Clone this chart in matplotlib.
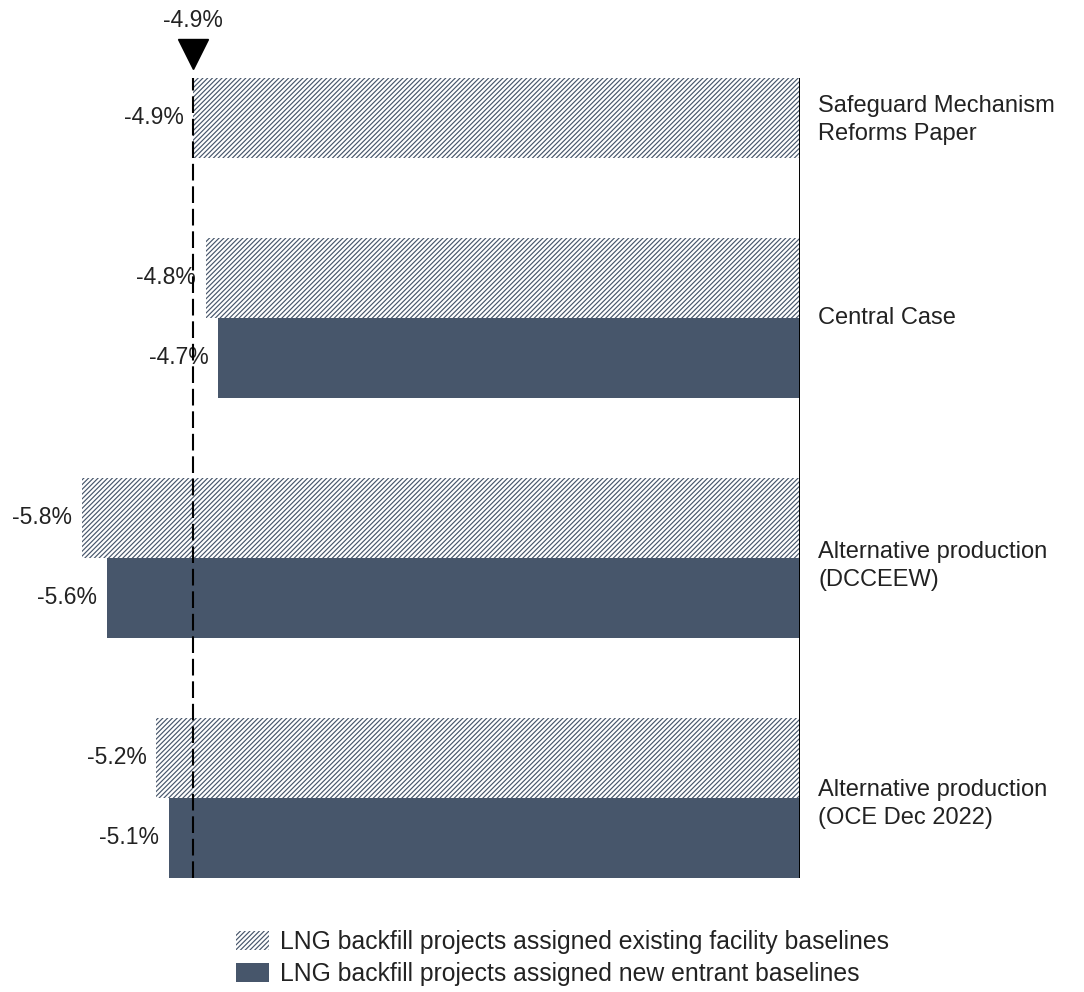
import matplotlib.pyplot as plt
from matplotlib.patches import Patch

plt.rcParams['font.family'] = ['Liberation Sans', 'DejaVu Sans']
plt.rcParams['hatch.linewidth'] = 0.85

# Scenario labels (right side) and bar values, in % change
scenarios = ["Safeguard Mechanism\nReforms Paper", "Central Case",
             "Alternative production\n(DCCEEW)", "Alternative production\n(OCE Dec 2022)"]
existing_vals = [-4.9, -4.8, -5.8, -5.2]
new_entrant_vals = [None, -4.7, -5.6, -5.1]
reference_val = -4.9

existing_label = "LNG backfill projects assigned existing facility baselines"
new_entrant_label = "LNG backfill projects assigned new entrant baselines"

bar_color = '#47566b'
text_color = '#222222'
hatch = '///////'
fs = 16.5

fig = plt.figure(figsize=(10.84, 9.92), dpi=100)
ax = fig.add_axes([0, 114 / 992, 800 / 1084, 800 / 992])

# each scenario takes three rows: hatched bar, solid bar, gap
# the first scenario has only the hatched bar
rows_existing = [0, 2, 5, 8]
rows_new = [None, 3, 6, 9]
label_rows = [0.03, 2.5, 5.6, 8.57]

for y, v in zip(rows_existing, existing_vals):
    ax.barh(y, v, height=1.0, color='white', edgecolor=bar_color,
            hatch=hatch, linewidth=0)
    ax.annotate(f"{v:.1f}%", xy=(v, y), xytext=(-7, 0), textcoords='offset points',
                ha='right', va='center', fontsize=fs, color=text_color)

for y, v in zip(rows_new, new_entrant_vals):
    if v is None:
        continue
    ax.barh(y, v, height=1.0, color=bar_color, linewidth=0)
    ax.annotate(f"{v:.1f}%", xy=(v, y), xytext=(-7, 0), textcoords='offset points',
                ha='right', va='center', fontsize=fs, color=text_color)

for y, name in zip(label_rows, scenarios):
    ax.annotate(name, xy=(0, y), xytext=(13, 0), textcoords='offset points',
                ha='left', va='center', fontsize=17, color=text_color,
                annotation_clip=False, linespacing=1.35)

# reference line with marker and value on top
ax.axvline(reference_val, color='black', linestyle=(0, (8, 2.8)), linewidth=1.5, zorder=5)
ax.axvline(0, color='black', linewidth=1.4, zorder=5)
ax.plot([reference_val], [-0.8], marker='v', markersize=21, color='black',
        clip_on=False, linestyle='none')
ax.text(reference_val, -1.22, f"{reference_val:.1f}%", ha='center', va='center',
        fontsize=fs, color=text_color, clip_on=False)

ax.set_xlim(-800 / 123.8, 0)
ax.set_ylim(9.5, -0.5)
ax.axis('off')

handles = [Patch(facecolor='white', edgecolor=bar_color, hatch=hatch, linewidth=0),
           Patch(facecolor=bar_color, linewidth=0)]
fig.legend(handles, [existing_label, new_entrant_label], loc='upper left',
           bbox_to_anchor=(236 / 1084, 1 - 930 / 992), frameon=False, fontsize=17.8,
           handlelength=1.35, handleheight=0.85, handletextpad=0.45,
           labelspacing=0.33, borderpad=0, borderaxespad=0, labelcolor=text_color)

fig.savefig('out.png', dpi=100)
